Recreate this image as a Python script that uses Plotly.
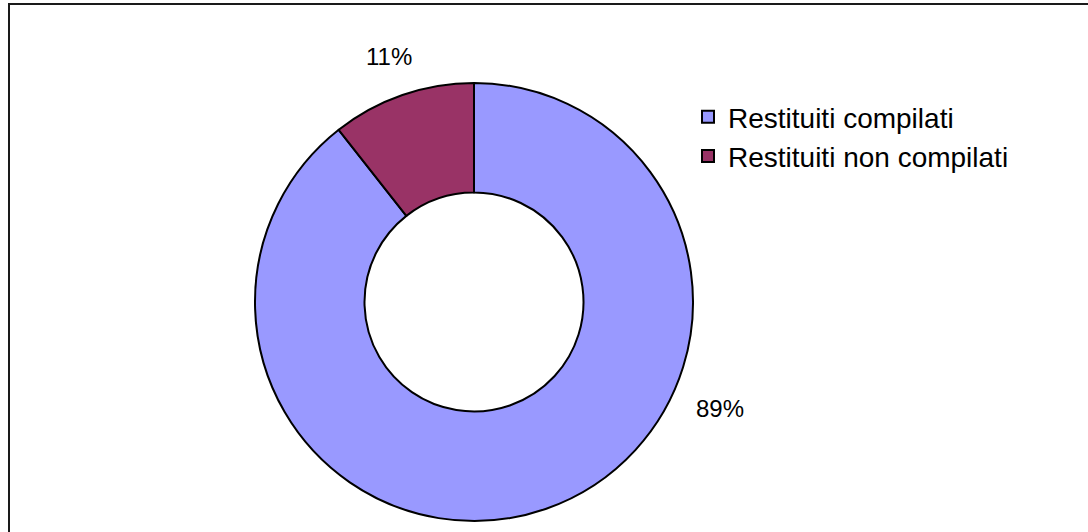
import plotly.graph_objects as go

# Data
categories = ["Restituiti compilati", "Restituiti non compilati"]
values = [89.4, 10.6]
colors = ["#9999FF", "#993366"]

W, H = 1088, 532

total = sum(values)
pct_text = [f"{round(v / total * 100)}%" for v in values]

fig = go.Figure(
    go.Pie(
        labels=categories,
        values=values,
        hole=0.5,
        sort=False,
        direction="clockwise",
        rotation=0,
        marker=dict(colors=colors, line=dict(color="#000000", width=2)),
        textinfo="none",
        hoverinfo="label+percent",
        domain=dict(x=[255 / W, 693 / W], y=[1 - 521 / H, 1 - 83 / H]),
    )
)

# Data labels (text from data, placed like the reference)
label_pos = [(720, 408), (389, 56)]
for txt, (px, py) in zip(pct_text, label_pos):
    fig.add_annotation(
        x=px / W, y=1 - py / H, xref="paper", yref="paper",
        text=txt, showarrow=False,
        font=dict(family="Liberation Sans, Arial, sans-serif", size=24, color="#000000"),
        xanchor="center", yanchor="middle",
    )

# Chart-area border (cropped at right and bottom in reference)
fig.add_shape(
    type="rect", xref="paper", yref="paper",
    x0=9 / W, x1=1.05, y0=-0.05, y1=1 - 4 / H,
    line=dict(color="#1a1a1a", width=2), fillcolor="rgba(0,0,0,0)", layer="above",
)

fig.update_layout(
    width=W, height=H,
    margin=dict(l=0, r=0, t=0, b=0),
    paper_bgcolor="#FFFFFF",
    plot_bgcolor="#FFFFFF",
    font=dict(family="Liberation Sans, Arial, sans-serif", color="#000000"),
    showlegend=True,
    legend=dict(
        x=688 / W, y=1 - 92 / H, xanchor="left", yanchor="top",
        font=dict(size=28, color="#000000"),
        bgcolor="rgba(0,0,0,0)",
        traceorder="normal",
        itemclick=False,
    ),
)

fig.write_html(
    "out.html",
    config={"displayModeBar": False},
    post_script="document.body.style.margin='0';document.body.style.padding='0';",
)
